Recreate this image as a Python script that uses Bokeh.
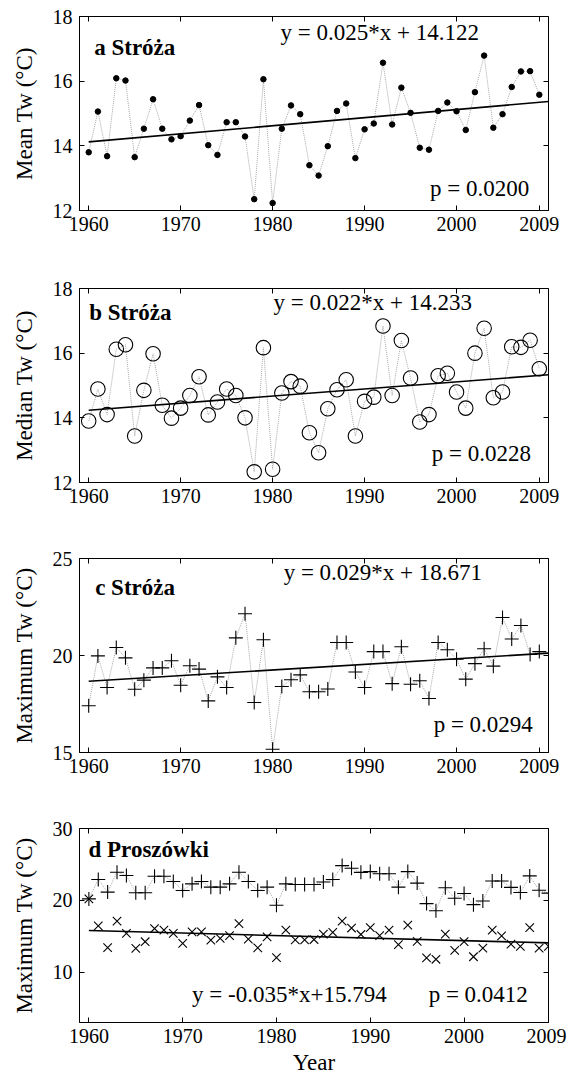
from bokeh.plotting import figure
from bokeh.layouts import column
from bokeh.models import Range1d, FixedTicker, LinearAxis, Label
from bokeh.embed import file_html
from bokeh.resources import INLINE

# ---------------- data ----------------
years = list(range(1960, 2010))

mean_tw = [13.80, 15.06, 13.68, 16.09, 16.02, 13.65, 14.53, 15.44, 14.53, 14.20,
           14.30, 14.78, 15.26, 14.02, 13.72, 14.73, 14.73, 14.29, 12.35, 16.06,
           12.23, 14.53, 15.25, 14.98, 13.40, 13.08, 13.99, 15.08, 15.31, 13.62,
           14.51, 14.69, 16.57, 14.66, 15.80, 15.02, 13.94, 13.88, 15.08, 15.34,
           15.07, 14.49, 15.66, 16.79, 14.56, 14.98, 15.82, 16.30, 16.31, 15.58]

median_tw = [13.90, 14.89, 14.10, 16.12, 16.26, 13.44, 14.85, 15.98, 14.39, 13.99,
             14.30, 14.69, 15.27, 14.09, 14.49, 14.89, 14.69, 14.00, 12.33, 16.17,
             12.41, 14.77, 15.12, 14.98, 13.54, 12.92, 14.28, 14.87, 15.18, 13.44,
             14.51, 14.64, 16.84, 14.69, 16.39, 15.23, 13.87, 14.10, 15.30, 15.38,
             14.80, 14.30, 16.00, 16.77, 14.62, 14.80, 16.20, 16.18, 16.40, 15.52]

max_tw = [17.41, 19.98, 18.35, 20.41, 19.88, 18.26, 18.73, 19.36, 19.36, 19.73,
          18.47, 19.47, 19.30, 17.66, 18.90, 18.35, 20.91, 22.15, 17.58, 20.81,
          15.17, 18.40, 18.75, 19.00, 18.13, 18.13, 18.27, 20.67, 20.67, 19.15,
          18.35, 20.20, 20.20, 18.55, 20.45, 18.52, 18.70, 17.78, 20.67, 20.30,
          19.81, 18.78, 19.58, 20.35, 19.45, 21.96, 20.85, 21.55, 20.05, 20.20]

prosz_upper = [20.20, 22.90, 21.15, 23.92, 23.46, 21.06, 21.06, 23.36, 23.36, 22.63,
               21.38, 22.30, 22.63, 21.84, 21.84, 22.30, 23.92, 22.63, 21.38, 21.84,
               19.31, 22.30, 22.20, 22.20, 22.20, 22.55, 22.90, 24.84, 24.47, 23.90,
               24.00, 23.70, 23.70, 21.84, 24.00, 22.40, 19.55, 18.55, 21.75, 20.30,
               20.95, 19.40, 19.90, 22.70, 22.70, 21.80, 21.10, 23.40, 21.40, 21.00]

prosz_lower = [20.20, 16.45, 13.41, 17.10, 15.39, 13.32, 14.24, 16.08, 15.85, 15.39,
               14.01, 15.62, 15.62, 14.47, 14.70, 15.10, 16.77, 14.60, 13.40, 14.93,
               12.03, 15.85, 14.50, 14.50, 14.55, 15.30, 15.55, 17.10, 16.15, 15.25,
               16.20, 15.10, 15.85, 13.85, 16.55, 14.30, 12.00, 11.80, 15.30, 13.05,
               14.25, 12.15, 13.35, 15.85, 15.05, 13.90, 13.60, 16.20, 13.35, 13.60]

x_ticks = [1960, 1970, 1980, 1990, 2000, 2009]

# regression lines: y = slope * (year - 1960) + intercept
trend_a = (0.025, 14.122)
trend_b = (0.022, 14.233)
trend_c = (0.029, 18.671)
trend_d = (-0.035, 15.794)

SERIF = "Liberation Serif"
GRAY = "#a8a8a8"


def make_fig(height, top, bottom, xmax, ylo, yhi, yticks, ylabel, xlabel=None):
    p = figure(width=566, height=height,
               x_range=Range1d(1959, xmax), y_range=Range1d(ylo, yhi),
               output_backend="svg", toolbar_location=None,
               min_border_left=79, min_border_right=18,
               min_border_top=top, min_border_bottom=bottom)
    p.grid.visible = False
    p.outline_line_color = "black"
    p.outline_line_width = 1
    p.outline_line_alpha = 1.0
    p.background_fill_color = "white"
    p.border_fill_color = "white"

    for ax, ticks in ((p.xaxis[0], x_ticks), (p.yaxis[0], yticks)):
        ax.ticker = FixedTicker(ticks=ticks)
        ax.major_tick_in = 5
        ax.major_tick_out = 0
        ax.minor_tick_in = 0
        ax.minor_tick_out = 0
        ax.axis_line_color = "black"
        ax.major_tick_line_color = "black"
        ax.major_label_text_font = SERIF
        ax.major_label_text_font_size = "20px"
        ax.major_label_text_color = "black"
        ax.axis_label_text_font = SERIF
        ax.axis_label_text_font_size = "23px"
        ax.axis_label_text_font_style = "normal"
        ax.axis_label_text_color = "black"

    p.xaxis[0].major_label_standoff = 6
    p.yaxis[0].major_label_standoff = 7
    p.yaxis[0].axis_label = ylabel
    p.yaxis[0].axis_label_standoff = 13
    if xlabel:
        p.xaxis[0].axis_label = xlabel
        p.xaxis[0].axis_label_standoff = 4

    # mirrored inner ticks on top and right (MATLAB box style)
    for loc, ticks in (("above", x_ticks), ("right", yticks)):
        ax = LinearAxis(ticker=FixedTicker(ticks=ticks),
                        major_tick_in=5, major_tick_out=0,
                        minor_tick_in=0, minor_tick_out=0,
                        axis_line_color=None,
                        major_label_text_color=None,
                        major_label_text_font_size="1px",
                        major_label_standoff=0)
        p.add_layout(ax, loc)
    return p


def add_text(p, x, y, text, align="left", bold=False):
    p.add_layout(Label(x=x, y=y, text=text, text_font=SERIF,
                       text_font_size="23px", text_align=align,
                       text_baseline="middle", text_color="black",
                       text_font_style="bold" if bold else "normal"))


def add_trend(p, trend, x0, x1):
    m, b = trend
    p.line([x0, x1], [b + m * (x0 - 1960), b + m * (x1 - 1960)],
           line_color="black", line_width=1.6)


# ---------------- panel a ----------------
pa = make_fig(272, 16, 62, 2010, 12, 18, [12, 14, 16, 18], "Mean Tw (°C)")
pa.line(years, mean_tw, line_color=GRAY, line_width=1, line_dash="1 1")
add_trend(pa, trend_a, 1960, 2010)
pa.scatter(years, mean_tw, marker="circle", size=5.5,
           fill_color="black", line_color="black")
add_text(pa, 1960.6, 17.04, "a Stróża", bold=True)
add_text(pa, 1980.85, 17.51, "y = 0.025*x + 14.122")
add_text(pa, 2007.9, 12.68, "p = 0.0200", align="right")

# ---------------- panel b ----------------
pb = make_fig(270, 16, 60, 2010, 12, 18, [12, 14, 16, 18], "Median Tw (°C)")
pb.line(years, median_tw, line_color=GRAY, line_width=1, line_dash="1 1")
add_trend(pb, trend_b, 1960, 2010)
pb.scatter(years, median_tw, marker="circle", size=14.5,
           fill_color=None, line_color="black", line_width=1.1)
add_text(pb, 1960.05, 17.26, "b Stróża", bold=True)
add_text(pb, 1980.1, 17.57, "y = 0.022*x + 14.233")
add_text(pb, 2008.1, 12.9, "p = 0.0228", align="right")

# ---------------- panel c ----------------
pc = make_fig(270, 16, 60, 2010, 15, 25, [15, 20, 25], "Maximum Tw (°C)")
pc.line(years, max_tw, line_color=GRAY, line_width=1, line_dash="1 1")
add_trend(pc, trend_c, 1960, 2010)
pc.scatter(years, max_tw, marker="cross", size=14,
           line_color="black", line_width=1.1)
add_text(pc, 1960.7, 23.5, "c Stróża", bold=True)
add_text(pc, 1981.2, 24.28, "y = 0.029*x + 18.671")
add_text(pc, 2008.3, 16.44, "p = 0.0294", align="right")

# ---------------- panel d ----------------
pd_ = make_fig(272, 16, 62, 2009, 3, 30, [10, 20, 30], "Maximum Tw (°C)", "Year")
pd_.line(years, prosz_upper, line_color=GRAY, line_width=1, line_dash="1 1")
add_trend(pd_, trend_d, 1960, 2009)
pd_.scatter(years, prosz_upper, marker="cross", size=14,
            line_color="black", line_width=1.1)
pd_.scatter(years, prosz_lower, marker="x", size=12,
            line_color="black", line_width=1.1)
add_text(pd_, 1959.96, 27.13, "d Proszówki", bold=True)
add_text(pd_, 1971.0, 6.87, "y = -0.035*x+15.794")
add_text(pd_, 2006.8, 6.87, "p = 0.0412", align="right")

layout = column(pa, pb, pc, pd_, spacing=0)

open("out.html", "w").write(file_html(layout, INLINE))
